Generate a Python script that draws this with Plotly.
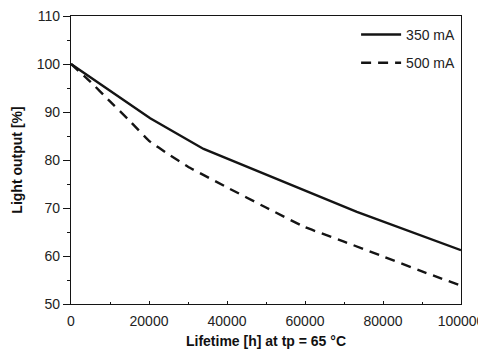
import plotly.graph_objects as go

# Data
hours_350 = [0, 10000, 20300, 34000, 50000, 73300, 100000]
light_350 = [100.0, 94.4, 88.7, 82.3, 77.0, 69.2, 61.2]

hours_500 = [0, 5000, 10000, 15000, 20000, 25000, 30000, 40000, 50000, 60000, 70000, 80000, 90000, 100000]
light_500 = [100.0, 96.3, 92.2, 88.2, 84.0, 81.2, 78.6, 74.3, 70.1, 66.0, 63.0, 59.9, 56.8, 53.8]

series_names = ["350 mA", "500 mA"]
x_tick_vals = [0, 20000, 40000, 60000, 80000, 100000]
y_tick_vals = [50, 60, 70, 80, 90, 100, 110]

FONT = "Liberation Sans, Arial, Helvetica, sans-serif"
INK = "#141414"

fig = go.Figure()
fig.add_trace(go.Scatter(x=hours_350, y=light_350, mode="lines", name=series_names[0],
                         legendgroup="a",
                         line=dict(color=INK, width=2.4, shape="linear")))
fig.add_trace(go.Scatter(x=hours_500, y=light_500, mode="lines", name=series_names[1],
                         legendgroup="b",
                         line=dict(color=INK, width=2.4, dash="10px,7px", shape="spline", smoothing=0.3)))

axis_common = dict(showline=True, linecolor=INK, linewidth=1.3, mirror=True,
                   showgrid=False, zeroline=False, automargin=False,
                   ticklabeloverflow="allow",
                   tickfont=dict(family=FONT, size=14, color="#222"))

fig.update_xaxes(range=[0, 100000], tickvals=x_tick_vals, tickformat="d",
                 ticks="inside", ticklen=3, tickwidth=1.2, tickcolor=INK,
                 ticklabelstandoff=4,
                 minor=dict(dtick=10000, tick0=0, ticks="inside", ticklen=2, tickcolor=INK, tickwidth=1),
                 title=dict(text="<b>Lifetime [h] at tp = 65 °C</b>", font=dict(family=FONT, size=14, color="#111"), standoff=8),
                 **axis_common)
fig.update_yaxes(range=[50, 110], tickvals=y_tick_vals,
                 ticks="outside", ticklen=7, tickwidth=1.2, tickcolor=INK,
                 minor=dict(dtick=5, tick0=50, ticks="outside", ticklen=3, tickcolor=INK, tickwidth=1),
                 title=dict(text="<b>Light output [%]</b>", font=dict(family=FONT, size=14, color="#111"), standoff=10),
                 **axis_common)

# The page adds an 8 px body margin, so the figure is sized/margined to compensate.
fig.update_layout(
    width=478, height=348,
    margin=dict(l=63, r=25, t=8, b=52),
    paper_bgcolor="white", plot_bgcolor="white",
    font=dict(family=FONT, size=14, color="#222"),
    showlegend=True,
    legend=dict(x=0.731, y=0.99, xanchor="left", yanchor="top", bgcolor="rgba(0,0,0,0)",
                font=dict(family=FONT, size=14, color="#222"), tracegroupgap=7, itemwidth=40),
)

fig.write_html("out.html")
